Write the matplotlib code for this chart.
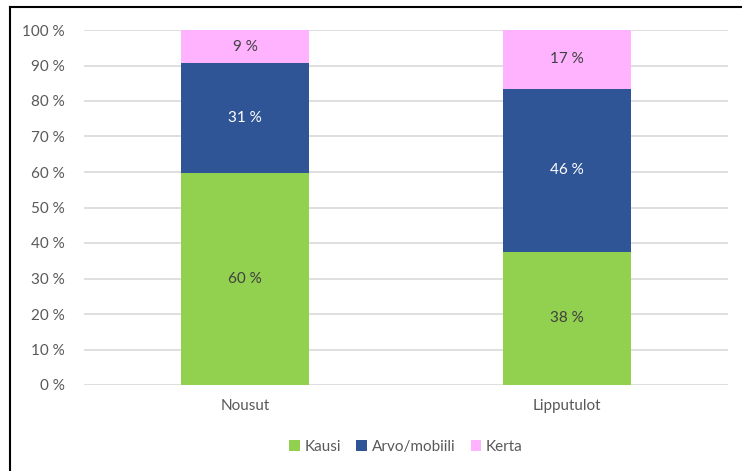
import matplotlib.pyplot as plt
from matplotlib.lines import Line2D

categories = ['Nousut', 'Lipputulot']
series = ['Kausi', 'Arvo/mobiili', 'Kerta']
kausi = [59.8, 37.5]
arvo = [30.9, 45.9]
kerta = [9.3, 16.6]
colors = ['#92d050', '#2f5597', '#ffb3ff']
label_colors = ['#404040', '#ffffff', '#404040']
yticks = list(range(0, 101, 10))

plt.rcParams['font.family'] = ['Lato', 'DejaVu Sans']

fig = plt.figure(figsize=(7.42, 4.71), dpi=100)
ax = fig.add_axes([84 / 742, 1 - 385 / 471, (728 - 84) / 742, (385 - 30) / 471])

x = range(len(categories))
bottom = [0] * len(categories)
for name, vals, col, lcol in zip(series, [kausi, arvo, kerta], colors, label_colors):
    bars = ax.bar(x, vals, bottom=bottom, width=0.4, color=col, label=name, zorder=3)
    labels = ['%d %%' % round(v) for v in vals]
    ax.bar_label(bars, labels=labels, label_type='center', color=lcol, fontsize=11)
    bottom = [b + v for b, v in zip(bottom, vals)]

ax.set_xlim(-0.5, 1.5)
ax.set_ylim(0, 100)
ax.set_yticks(yticks)
ax.set_yticklabels(['%d %%' % t for t in yticks])
ax.set_xticks(list(x))
ax.set_xticklabels(categories)
ax.grid(axis='y', color='#d9d9d9', linewidth=1.2, zorder=0)
for s in ax.spines.values():
    s.set_visible(False)
ax.tick_params(length=0, colors='#595959', labelsize=11)
ax.tick_params(axis='y', pad=14)
ax.tick_params(axis='x', pad=10)

ax.legend(loc='center', bbox_to_anchor=(0.5, -0.175), ncol=3, frameon=False,
          handlelength=0.7, handleheight=0.7, handletextpad=0.3, columnspacing=1.0,
          fontsize=11, labelcolor='#595959')

# outer frame (left and top edges)
fig.add_artist(Line2D([10 / 742, 10 / 742], [0, 1 - 7 / 471], color='black', linewidth=1.5))
fig.add_artist(Line2D([10 / 742, 1], [1 - 7 / 471, 1 - 7 / 471], color='black', linewidth=1.5))

fig.savefig('out.png', dpi=100)
